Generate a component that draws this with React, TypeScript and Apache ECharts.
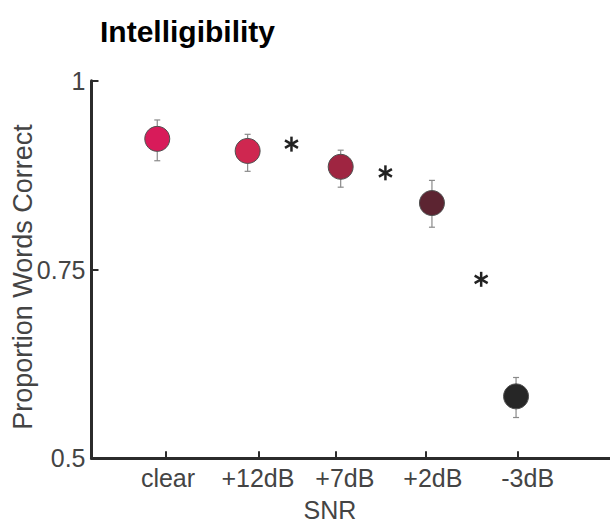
import React, { useEffect, useRef } from "react";
import * as echarts from "echarts";

const categories = ["clear", "+12dB", "+7dB", "+2dB", "-3dB"];
const tickPositions = [1.06, 2.1, 2.96, 3.97, 5.0];
const labelPositions = [1.09, 2.095, 3.067, 4.05, 5.11];
const xPositions = [0.97, 1.98, 3.02, 4.04, 4.98];
const means = [0.923, 0.907, 0.886, 0.838, 0.582];
const errLow = [0.894, 0.88, 0.859, 0.806, 0.554];
const errHigh = [0.948, 0.929, 0.908, 0.868, 0.607];
const markerColors = ["#d81b5a", "#cf2750", "#9f2541", "#5c2431", "#262626"];
const starX = [2.47, 3.52, 4.59];
const starY = [0.916, 0.878, 0.737];
const yTicks = [0.5, 0.75, 1];

const FONT = '"Liberation Sans", Arial, Helvetica, sans-serif';

export default function App() {
  const ref = useRef<HTMLDivElement>(null);
  useEffect(() => {
    document.body.style.margin = "0";
    if (!ref.current) return;
    const chart = echarts.init(ref.current, null, { renderer: "svg" });
    const axisColor = "#2b2b2b";
    const labelColor = "#444";
    const labelFor = (v: number) => {
      let best = 0;
      labelPositions.forEach((t, i) => {
        if (Math.abs(t - v) < Math.abs(labelPositions[best] - v)) best = i;
      });
      return categories[best];
    };
    chart.setOption({
      animation: false,
      backgroundColor: "#fff",
      textStyle: { fontFamily: FONT },
      grid: { left: 91.5, top: 80.7, right: 0, height: 377.6, containLabel: false },
      graphic: [
        {
          type: "text",
          x: 100,
          y: 31,
          style: {
            text: "Intelligibility",
            fontFamily: FONT,
            fontSize: 30,
            fontWeight: "bold",
            fill: "#000",
            align: "left",
            verticalAlign: "middle",
          },
        },
        {
          type: "text",
          x: 23,
          y: 277,
          rotation: Math.PI / 2,
          style: {
            text: "Proportion Words Correct",
            fontFamily: FONT,
            fontSize: 27,
            fill: labelColor,
            align: "center",
            verticalAlign: "middle",
          },
        },
        {
          type: "text",
          x: 330,
          y: 510,
          style: {
            text: "SNR",
            fontFamily: FONT,
            fontSize: 25,
            fill: labelColor,
            align: "center",
            verticalAlign: "middle",
          },
        },
      ],
      xAxis: {
        type: "value",
        min: 0.235,
        max: 6.03,
        splitLine: { show: false },
        axisLine: { show: true, lineStyle: { color: axisColor, width: 3 } },
        axisTick: {
          show: true,
          inside: true,
          length: 7,
          lineStyle: { color: axisColor, width: 2 },
          customValues: tickPositions,
        },
        axisLabel: {
          show: true,
          customValues: labelPositions,
          formatter: (v: number) => labelFor(v),
          fontSize: 25,
          color: labelColor,
          fontFamily: FONT,
          margin: 7,
        },
      },
      yAxis: {
        type: "value",
        min: 0.5,
        max: 1,
        interval: 0.25,
        splitLine: { show: false },
        axisLine: { show: true, lineStyle: { color: axisColor, width: 3 } },
        axisTick: {
          show: true,
          inside: true,
          length: 7,
          lineStyle: { color: axisColor, width: 2 },
        },
        axisLabel: {
          fontSize: 25,
          color: labelColor,
          fontFamily: FONT,
          margin: 6,
          formatter: (v: number) => (yTicks.includes(v) ? String(v) : ""),
        },
      },
      series: [
        {
          type: "custom",
          z: 1,
          renderItem: (params: any, api: any) => {
            const x = api.value(0);
            const lo = api.coord([x, api.value(1)]);
            const hi = api.coord([x, api.value(2)]);
            const cw = 3;
            const st = { stroke: "#8a8a8a", lineWidth: 1.2 };
            return {
              type: "group",
              children: [
                { type: "line", shape: { x1: lo[0], y1: lo[1], x2: hi[0], y2: hi[1] }, style: st },
                { type: "line", shape: { x1: lo[0] - cw, y1: lo[1], x2: lo[0] + cw, y2: lo[1] }, style: st },
                { type: "line", shape: { x1: hi[0] - cw, y1: hi[1], x2: hi[0] + cw, y2: hi[1] }, style: st },
              ],
            };
          },
          data: xPositions.map((x, i) => [x, errLow[i], errHigh[i]]),
        },
        {
          type: "scatter",
          z: 3,
          symbol: "circle",
          symbolSize: 25,
          data: xPositions.map((x, i) => ({
            value: [x, means[i]],
            itemStyle: { color: markerColors[i], borderColor: "#505050", borderWidth: 1, opacity: 1 },
          })),
        },
        {
          type: "custom",
          z: 4,
          renderItem: (params: any, api: any) => {
            const p = api.coord([api.value(0), api.value(1)]);
            const r = 7.5;
            const st = { stroke: "#222", lineWidth: 2.5 };
            const children = [90, 30, -30].map((deg) => {
              const a = (deg * Math.PI) / 180;
              const dx = r * Math.cos(a);
              const dy = r * Math.sin(a);
              return {
                type: "line",
                shape: { x1: p[0] - dx, y1: p[1] - dy, x2: p[0] + dx, y2: p[1] + dy },
                style: st,
              };
            });
            return { type: "group", children };
          },
          data: starX.map((x, i) => [x, starY[i]]),
        },
      ],
    });
    return () => chart.dispose();
  }, []);
  return <div ref={ref} style={{ width: 610, height: 523 }} />;
}
